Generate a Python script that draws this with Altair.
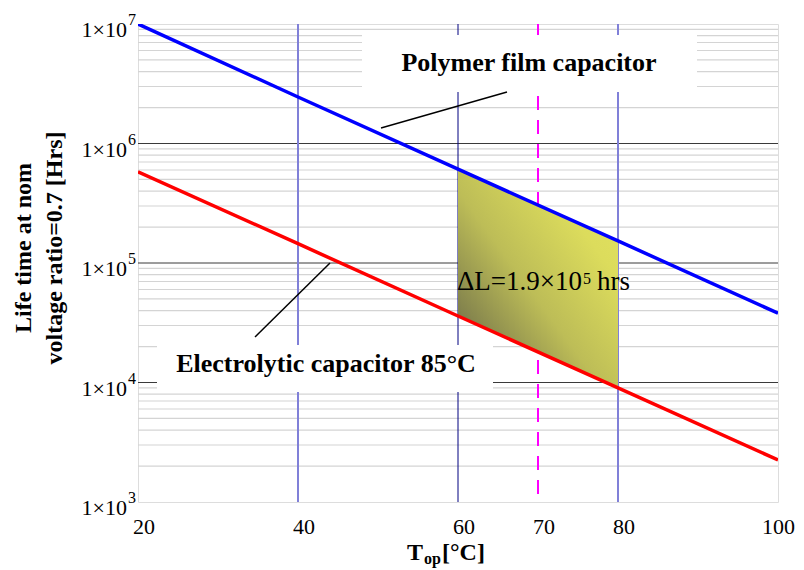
import altair as alt
import pandas as pd

# ---- data ----
temps = [20, 40, 60, 80, 100]
life_polymer = [1.0e7, 2.45e6, 6.1e5, 1.53e5, 3.8e4]
life_electrolytic = [5.8e5, 1.45e5, 3.6e4, 9.0e3, 2.25e3]

x_ticks = [20, 40, 60, 70, 80]
x_tick_last = [100]
y_ticks = [1e3, 1e4, 1e5, 1e6, 1e7]
y_exps = ["3", "4", "5", "6", "7"]
y_major_grid = [1e4, 1e5, 1e6]
y_minor_grid = [m * 10 ** k for k in range(3, 7) for m in range(2, 10)]
x_grid_light = [40, 80]
x_grid_dark = [60]
x_grid_dashed = [70]

FONT = "Liberation Serif"
W, H = 640, 478

df = pd.DataFrame({"T": temps, "poly": life_polymer, "elec": life_electrolytic})
one = pd.DataFrame({"a": [0]})

xs = alt.Scale(domain=[20, 100], nice=False, zero=False)
ys = alt.Scale(type="log", domain=[1e3, 1e7], nice=False)

minor = alt.Chart(pd.DataFrame({"v": y_minor_grid})).mark_rule(
    color="#d4d4d4", strokeWidth=1.2).encode(y=alt.Y("v:Q", scale=ys, axis=None))
major = alt.Chart(pd.DataFrame({"v": y_major_grid})).mark_rule(
    color="#3a3a3a", strokeWidth=1).encode(y=alt.Y("v:Q", scale=ys, axis=None))
vlight = alt.Chart(pd.DataFrame({"v": x_grid_light})).mark_rule(
    color="#8080d8", strokeWidth=2).encode(x=alt.X("v:Q", scale=xs, axis=None))
vdark = alt.Chart(pd.DataFrame({"v": x_grid_dark})).mark_rule(
    color="#000080", strokeWidth=1).encode(x=alt.X("v:Q", scale=xs, axis=None))
vdash = alt.Chart(pd.DataFrame({"v": x_grid_dashed})).mark_rule(
    color="#ff00ff", strokeWidth=2, strokeDash=[14, 10]).encode(x=alt.X("v:Q", scale=xs, axis=None))

box_poly = alt.Chart(one).mark_rect(color="white").encode(
    x=alt.value(224), x2=alt.value(559), y=alt.value(11), y2=alt.value(68))
box_elec = alt.Chart(one).mark_rect(color="white").encode(
    x=alt.value(19), x2=alt.value(355), y=alt.value(321), y2=alt.value(368))

grad = {
    "gradient": "linear", "x1": 0, "y1": 1, "x2": 1, "y2": 0,
    "stops": [
        {"offset": 0.0, "color": "#5a5a46"},
        {"offset": 0.45, "color": "#bdbd57"},
        {"offset": 0.75, "color": "#dcdc5c"},
        {"offset": 1.0, "color": "#e2e260"},
    ],
}
area = alt.Chart(df).transform_filter(
    (alt.datum.T >= 60) & (alt.datum.T <= 80)
).mark_area(color=grad, opacity=1).encode(
    x=alt.X("T:Q", scale=xs, axis=None),
    y=alt.Y("poly:Q", scale=ys, axis=None),
    y2="elec:Q",
)

line_poly = alt.Chart(df).mark_line(color="#0000ff", strokeWidth=3.5, clip=True).encode(
    x=alt.X("T:Q", scale=xs, axis=None), y=alt.Y("poly:Q", scale=ys, axis=None))
line_elec = alt.Chart(df).mark_line(color="#ff0000", strokeWidth=3.5, clip=True).encode(
    x=alt.X("T:Q", scale=xs, axis=None), y=alt.Y("elec:Q", scale=ys, axis=None))

lead_poly = alt.Chart(one).mark_rule(color="black", strokeWidth=1.5).encode(
    x=alt.value(243), y=alt.value(104), x2=alt.value(369), y2=alt.value(68))
lead_elec = alt.Chart(one).mark_rule(color="black", strokeWidth=1.5).encode(
    x=alt.value(117), y=alt.value(313), x2=alt.value(192), y2=alt.value(239))

def txt(text, x, y, size, bold=False, align="left", baseline="alphabetic", angle=0):
    kw = dict(text=text, font=FONT, fontSize=size, align=align, baseline=baseline,
              color="black", fontWeight="bold" if bold else "normal")
    if angle:
        kw["angle"] = angle
    return alt.Chart(one).mark_text(**kw).encode(x=alt.value(x), y=alt.value(y))

t_poly = txt("Polymer film capacitor", 391, 47, 26, bold=True, align="center")
t_elec = txt("Electrolytic capacitor 85°C", 188, 348, 26, bold=True, align="center")
t_dl1 = txt("ΔL=1.9×10", 444, 266, 27, align="right")
t_dl2 = txt("5", 445, 260, 16)
t_dl3 = txt("hrs", 492, 266, 27, align="right")

# axis labels
ylab = pd.DataFrame({"v": y_ticks, "e": y_exps})
ylab_main = alt.Chart(ylab).transform_calculate(lab="'1×10'").mark_text(
    font=FONT, fontSize=22, align="right", baseline="alphabetic", dy=13, color="black").encode(
    y=alt.Y("v:Q", scale=ys, axis=None), x=alt.value(-11), text="lab:N")
ylab_exp = alt.Chart(ylab).mark_text(font=FONT, fontSize=16, align="left",
                                     baseline="alphabetic", dy=1, color="black").encode(
    y=alt.Y("v:Q", scale=ys, axis=None), x=alt.value(-10), text="e:N")
xlab = alt.Chart(pd.DataFrame({"v": x_ticks})).mark_text(
    font=FONT, fontSize=22, align="center", baseline="alphabetic", dx=6, color="black").encode(
    x=alt.X("v:Q", scale=xs, axis=None), y=alt.value(510), text="v:Q")
xlab_last = alt.Chart(pd.DataFrame({"v": x_tick_last})).mark_text(
    font=FONT, fontSize=22, align="right", baseline="alphabetic", dx=17, color="black").encode(
    x=alt.X("v:Q", scale=xs, axis=None), y=alt.value(510), text="v:Q")

xt1 = txt("T", 269, 536, 24, bold=True)
xt2 = txt("op", 286, 540, 16, bold=True)
xt3 = txt("[°C]", 304, 536, 24, bold=True)
yt1 = txt("Life time at nom", -114, 224, 24, bold=True, align="center", baseline="middle", angle=270)
yt2 = txt("voltage ratio=0.7 [Hrs]", -83, 224, 24, bold=True, align="center", baseline="middle", angle=270)

chart = alt.layer(
    minor, major, vlight, vdark, vdash, box_poly, box_elec, area,
    line_poly, line_elec, lead_poly, lead_elec,
    t_poly, t_elec, t_dl1, t_dl2, t_dl3,
    ylab_main, ylab_exp, xlab, xlab_last, xt1, xt2, xt3, yt1, yt2,
).properties(
    width=W, height=H,
    autosize=alt.AutoSizeParams(type="none"),
    padding={"left": 130, "top": 16, "right": 18, "bottom": 66},
).configure_view(stroke="black", strokeWidth=2.5).configure(background="white")

chart.save("out.html", embed_options={"renderer": "svg", "actions": False})
